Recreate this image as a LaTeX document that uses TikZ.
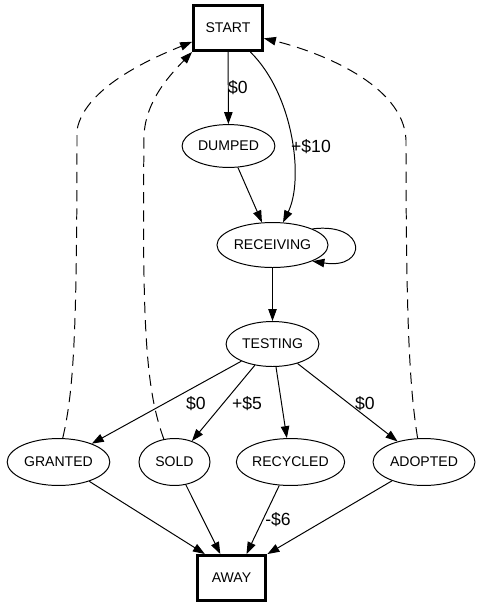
\documentclass[tikz,border=0pt]{standalone}
\usepackage{fontspec}
\setmainfont{Liberation Sans}
\usetikzlibrary{arrows.meta, shapes.geometric}

\begin{document}
\begin{tikzpicture}[x=0.025cm, y=-0.025cm,
  line width=0.7pt,
  >={Triangle[length=8.5pt, width=6pt]},
  state/.style={draw, ellipse, inner sep=0pt, font=\fontsize{10}{12}\selectfont},
  endpoint/.style={draw, rectangle, line width=2.1pt, inner sep=0pt, minimum width=49pt, minimum height=32pt, font=\fontsize{10}{12}\selectfont},
  back/.style={->, dash pattern=on 8pt off 5pt},
  cost/.style={font=\fontsize{12.5}{15}\selectfont, inner sep=0pt}]
  \useasboundingbox (0,0) rectangle (483,608);

  % Start and end boxes
  \node[endpoint] (start) at (228,28) {START};
  \node[endpoint] (away) at (231.5,578) {AWAY};

  % States
  \foreach \name/\x/\y/\w/\h/\txt in {
    dumped/228.5/146/66/30.5/DUMPED,
    receiving/272.5/245/79/32/RECEIVING,
    testing/272.5/344/66/32/TESTING,
    granted/58.5/462/73/33.4/GRANTED,
    sold/174.5/462/50.5/33.4/SOLD,
    recycled/290.5/462/76/33.4/RECYCLED,
    adopted/424/462/72.5/33.4/ADOPTED
  } {
    \node[state, minimum width=\w pt, minimum height=\h pt] (\name) at (\x,\y) {\txt};
  }

  % Transitions
  \draw[->] (start) -- (dumped);
  \draw[->] (start.-47) .. controls (294,95) and (304,180) .. (receiving.65);
  \draw[->] (dumped) -- (receiving.115);
  \draw[->] (receiving.22) .. controls (368,222) and (368,270) .. (receiving.-22);
  \draw[->] (receiving) -- (testing);
  \draw[->] (testing) -- (granted);
  \draw[->] (testing) -- (sold);
  \draw[->] (testing) -- (recycled);
  \draw[->] (testing) -- (adopted);
  \draw[->] (granted) -- (away.138);
  \draw[->] (sold) -- (away.115);
  \draw[->] (recycled) -- (away.58);
  \draw[->] (adopted) -- (away.north east);

  % Costs
  \node[cost] (c-dumped) at (238,88) {\$0};
  \node[cost] (c-receiving) at (311,147) {+\$10};
  \node[cost] (c-granted) at (196,404) {\$0};
  \node[cost] (c-sold) at (247,404) {+\$5};
  \node[cost] (c-adopted) at (365,404) {\$0};
  \node[cost] (c-recycled) at (278,520) {-\$6};

  % Back to start
  \draw[back] (granted.80) .. controls (74,390) and (77,330) .. (77,130)
    .. controls (85,85) and (160,55) .. (start.-159);
  \draw[back] (sold.115) .. controls (146,390) and (142,330) .. (144,135)
    .. controls (146,100) and (170,75) .. (start.south west);
  \draw[back] (adopted.105) .. controls (410,390) and (406,330) .. (406,140)
    .. controls (404,85) and (320,52) .. (start.-16);
\end{tikzpicture}
\end{document}
